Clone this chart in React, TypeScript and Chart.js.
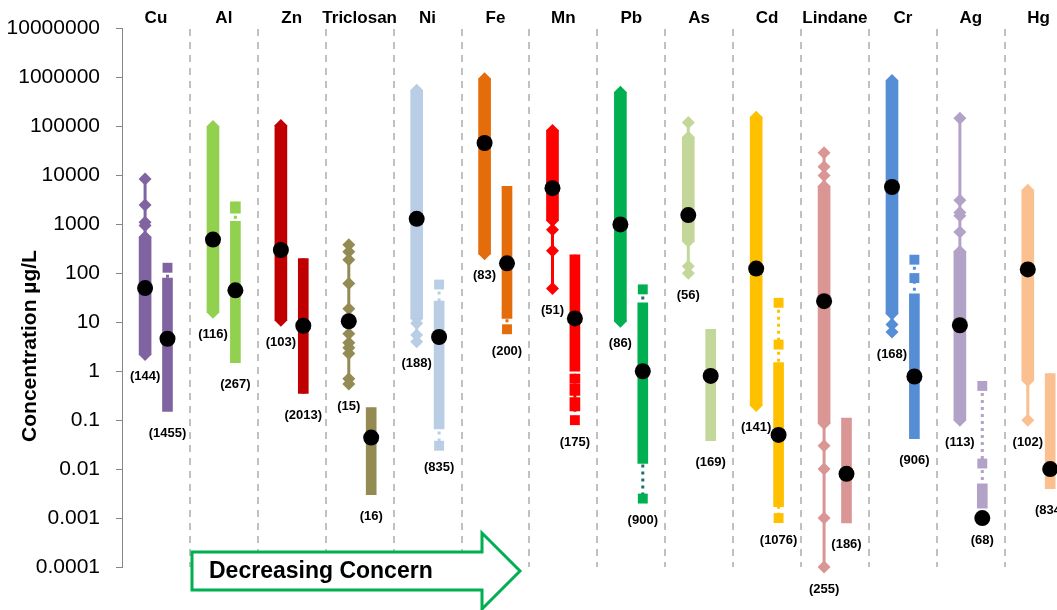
import { useEffect, useRef } from 'react';
import { Chart, registerables } from 'chart.js';

Chart.register(...registerables);

const FONT = '"Liberation Sans", Arial, sans-serif';

const categories = ['Cu', 'Al', 'Zn', 'Triclosan', 'Ni', 'Fe', 'Mn', 'Pb', 'As', 'Cd', 'Lindane', 'Cr', 'Ag', 'Hg'];
const seriesColors = ['#8064A2', '#92D050', '#C00000', '#948A54', '#B9CDE5', '#E46C0A', '#FF0000', '#00B050', '#C4D79B', '#FFC000', '#D99694', '#558ED5', '#B3A2C7', '#FAC090'];
const squareLineColors = ['#8064A2', '#92D050', '#C00000', '#948A54', '#B9CDE5', '#E46C0A', '#FF0000', '#1F6E6A', '#C4D79B', '#FFC000', '#D99694', '#558ED5', '#B3A2C7', '#FAC090'];

const tickValues = [0.0001, 0.001, 0.01, 0.1, 1, 10, 100, 1000, 10000, 100000, 1000000, 10000000];
const tickLabels = ['0.0001', '0.001', '0.01', '0.1', '1', '10', '100', '1000', '10000', '100000', '1000000', '10000000'];

const diamondCounts = [144, 116, 103, 15, 188, 83, 51, 86, 56, 141, 255, 168, 113, 102];
const squareCounts = [1455, 267, 2013, 16, 835, 200, 175, 900, 169, 1076, 186, 906, 68, 834];

const diamondMedians = [50, 490, 300, 10.5, 1300, 46000, 5500, 1000, 1550, 125, 27, 5800, 8.7, 120];
const squareMedians = [4.6, 45, 8.5, 0.044, 5, 160, 12, 1.0, 0.8, 0.05, 0.008, 0.78, 0.001, 0.01];

// isolated diamonds
const diamondPoints: number[][] = [
  [8500, 2500, 1100, 950],
  [],
  [],
  [385, 275, 190, 62, 19, 5.8, 3.8, 3.0, 2.3, 0.7, 0.55],
  [9.5, 5.5, 4],
  [],
  [780, 290, 49],
  [],
  [120000, 140, 100],
  [],
  [29000, 15000, 10000, 0.03, 0.01, 0.001, 0.0001],
  [9, 6.3],
  [147000, 3100, 1750, 1500, 700],
  [0.1],
];
// dense diamond clusters [low, high]
const diamondBands: [number, number][][] = [
  [[2.2, 550]],
  [[16, 100000]],
  [[11, 105000]],
  [],
  [[12, 550000]],
  [[250, 940000]],
  [[1200, 83000]],
  [[10.5, 500000]],
  [[450, 60000]],
  [[0.2, 155000]],
  [[0.085, 6000]],
  [[15, 870000]],
  [[0.1, 280]],
  [[0.65, 5000]],
];
// isolated squares
const squarePoints: number[][] = [
  [130],
  [],
  [],
  [],
  [59, 0.03],
  [7.2],
  [0.1],
  [47, 0.0025],
  [],
  [25, 3.5, 0.001],
  [],
  [190, 80],
  [0.5, 0.013],
  [],
];
// dense square clusters [low, high]
const squareBands: [number, number][][] = [
  [[0.15, 80]],
  [[1.5, 1150], [1700, 2900]],
  [[0.35, 200]],
  [[0.003, 0.18]],
  [[0.066, 27]],
  [[12, 6000]],
  [[1.0, 240], [0.57, 0.87], [0.32, 0.55], [0.155, 0.29]],
  [[0.013, 25]],
  [[0.038, 7.2]],
  [[0.0017, 1.5]],
  [[0.0008, 0.11]],
  [[0.042, 38]],
  [[0.0016, 0.005]],
  [[0.004, 0.9]],
];

const dOff = 0.34;
const sOff = 0.67;

const overlayPlugin = {
  id: 'overlay',
  afterDatasetsDraw(chart: any) {
    const ctx = chart.ctx as CanvasRenderingContext2D;
    const xs = chart.scales.x;
    const ys = chart.scales.y;
    ctx.save();
    ctx.font = `bold 13px ${FONT}`;
    ctx.fillStyle = '#000';
    ctx.textAlign = 'center';
    ctx.textBaseline = 'middle';
    categories.forEach((_, i) => {
      const dMin = Math.min(...diamondPoints[i], ...diamondBands[i].map((b) => b[0]));
      const sMin = Math.min(...squarePoints[i], ...squareBands[i].map((b) => b[0]), squareMedians[i]);
      ctx.fillText(`(${diamondCounts[i]})`, xs.getPixelForValue(i + dOff), ys.getPixelForValue(dMin) + 22);
      ctx.fillText(`(${squareCounts[i]})`, xs.getPixelForValue(i + sOff), ys.getPixelForValue(sMin) + 22);
    });
    ctx.restore();
  },
  afterDraw(chart: any) {
    const ctx = chart.ctx as CanvasRenderingContext2D;
    // y axis title
    ctx.save();
    ctx.translate(30, 346);
    ctx.rotate(-Math.PI / 2);
    ctx.font = `bold 21px ${FONT}`;
    ctx.fillStyle = '#000';
    ctx.textAlign = 'center';
    ctx.textBaseline = 'middle';
    ctx.fillText('Concentration µg/L', 0, 0);
    ctx.restore();
    // arrow
    ctx.save();
    ctx.beginPath();
    ctx.moveTo(192, 552);
    ctx.lineTo(482, 552);
    ctx.lineTo(482, 533);
    ctx.lineTo(520, 571);
    ctx.lineTo(482, 609);
    ctx.lineTo(482, 590);
    ctx.lineTo(192, 590);
    ctx.closePath();
    ctx.fillStyle = '#FFFFFF';
    ctx.fill();
    ctx.lineWidth = 3;
    ctx.strokeStyle = '#00B050';
    ctx.lineJoin = 'miter';
    ctx.stroke();
    ctx.font = `bold 23px ${FONT}`;
    ctx.fillStyle = '#000';
    ctx.textAlign = 'left';
    ctx.textBaseline = 'middle';
    ctx.fillText('Decreasing Concern', 209, 572);
    ctx.restore();
  },
};

export default function App() {
  const ref = useRef<HTMLCanvasElement>(null);

  useEffect(() => {
    const canvas = ref.current;
    if (!canvas) return;
    const datasets: any[] = [];

    const medianData: { x: number; y: number }[] = [];
    categories.forEach((_, i) => {
      medianData.push({ x: i + dOff, y: diamondMedians[i] });
      medianData.push({ x: i + sOff, y: squareMedians[i] });
    });
    datasets.push({
      type: 'scatter',
      data: medianData,
      pointRadius: 8,
      pointHoverRadius: 8,
      pointStyle: 'circle',
      backgroundColor: '#000',
      borderColor: '#000',
      borderWidth: 0,
      order: 0,
      clip: false,
      xAxisID: 'x',
      yAxisID: 'y',
    });

    const dBand: any[] = [];
    const dBandColors: string[] = [];
    const sBand: any[] = [];
    const sBandColors: string[] = [];
    categories.forEach((_, i) => {
      diamondBands[i].forEach(([lo, hi]) => {
        dBand.push({ x: i + dOff, y: [lo, hi] });
        dBandColors.push(seriesColors[i]);
      });
      squareBands[i].forEach(([lo, hi]) => {
        sBand.push({ x: i + sOff, y: [lo, hi] });
        sBandColors.push(seriesColors[i]);
      });
    });
    datasets.push({
      type: 'bar',
      data: dBand,
      backgroundColor: dBandColors,
      barThickness: 12,
      grouped: false,
      borderWidth: 0,
      borderSkipped: false,
      order: 1,
      xAxisID: 'x',
      yAxisID: 'y',
    });
    datasets.push({
      type: 'bar',
      data: sBand,
      backgroundColor: sBandColors,
      barThickness: 10,
      grouped: false,
      borderWidth: 0,
      borderSkipped: false,
      order: 1,
      xAxisID: 'x',
      yAxisID: 'y',
    });

    categories.forEach((_, i) => {
      const dp: { v: number; r: number }[] = diamondPoints[i].map((v) => ({ v, r: 6.5 }));
      diamondBands[i].forEach(([lo, hi]) => {
        dp.push({ v: lo, r: 6.5 }, { v: hi, r: 6.5 });
      });
      dp.sort((a, b) => b.v - a.v);
      datasets.push({
        type: 'scatter',
        showLine: true,
        data: dp.map((p) => ({ x: i + dOff, y: p.v })),
        pointRadius: dp.map((p) => p.r),
        pointHoverRadius: dp.map((p) => p.r),
        pointStyle: 'rectRot',
        pointBackgroundColor: seriesColors[i],
        pointBorderColor: seriesColors[i],
        pointBorderWidth: 0,
        borderColor: seriesColors[i],
        borderWidth: 3,
        order: 2,
        clip: false,
        xAxisID: 'x',
        yAxisID: 'y',
      });

      const sp: { v: number; r: number }[] = squarePoints[i].map((v) => ({ v, r: 7 }));
      squareBands[i].forEach(([lo, hi]) => {
        sp.push({ v: lo, r: 0 }, { v: hi, r: 0 });
      });
      sp.sort((a, b) => b.v - a.v);
      datasets.push({
        type: 'scatter',
        showLine: true,
        data: sp.map((p) => ({ x: i + sOff, y: p.v })),
        pointRadius: sp.map((p) => p.r),
        pointHoverRadius: sp.map((p) => p.r),
        pointStyle: 'rect',
        pointBackgroundColor: seriesColors[i],
        pointBorderColor: seriesColors[i],
        pointBorderWidth: 0,
        borderColor: squareLineColors[i],
        borderWidth: 3,
        borderDash: [3, 4],
        order: 2,
        clip: false,
        xAxisID: 'x',
        yAxisID: 'y',
      });
    });

    const chart = new Chart(canvas, {
      type: 'scatter',
      data: { datasets },
      options: {
        responsive: false,
        animation: false,
        events: [],
        layout: { padding: { left: 0, right: 17.4, top: 0, bottom: 43 } },
        plugins: { legend: { display: false }, tooltip: { enabled: false }, title: { display: false } },
        scales: {
          x: { type: 'linear', display: false, offset: false, min: 0, max: 14, grid: { offset: false } },
          xTop: {
            type: 'category',
            position: 'top',
            labels: categories,
            offset: true,
            afterFit: (s: any) => {
              s.height = 26;
            },
            grid: {
              offset: true,
              drawTicks: false,
              lineWidth: 2,
              color: (c: any) => (c.index === 0 ? 'rgba(0,0,0,0)' : '#C0C0C0'),
            },
            border: { display: false, dash: [7, 6] },
            ticks: {
              font: { family: FONT, size: 17, weight: 'bold' },
              color: '#000',
              padding: 0,
              autoSkip: false,
              maxRotation: 0,
            },
          },
          y: {
            type: 'logarithmic',
            position: 'left',
            min: 0.0001,
            max: 10000000,
            beginAtZero: false,
            afterBuildTicks: (s: any) => {
              s.ticks = tickValues.map((v) => ({ value: v }));
            },
            afterFit: (s: any) => {
              s.width = 122;
            },
            ticks: {
              callback: (v: any) => tickLabels[tickValues.indexOf(Number(v))] ?? '',
              font: { family: FONT, size: 21 },
              color: '#000',
              padding: 16,
              autoSkip: false,
            },
            grid: { drawOnChartArea: false, drawTicks: true, tickLength: 6, color: '#868686', lineWidth: 1 },
            border: { display: true, color: '#868686', width: 1 },
          },
        } as any,
      },
      plugins: [overlayPlugin],
    } as any);

    return () => chart.destroy();
  }, []);

  return (
    <div style={{ position: 'fixed', left: 0, top: 0, width: 1057, height: 610, overflow: 'hidden', background: '#fff' }}>
      <canvas ref={ref} width={1090} height={610} style={{ width: 1090, height: 610, display: 'block' }} />
    </div>
  );
}
